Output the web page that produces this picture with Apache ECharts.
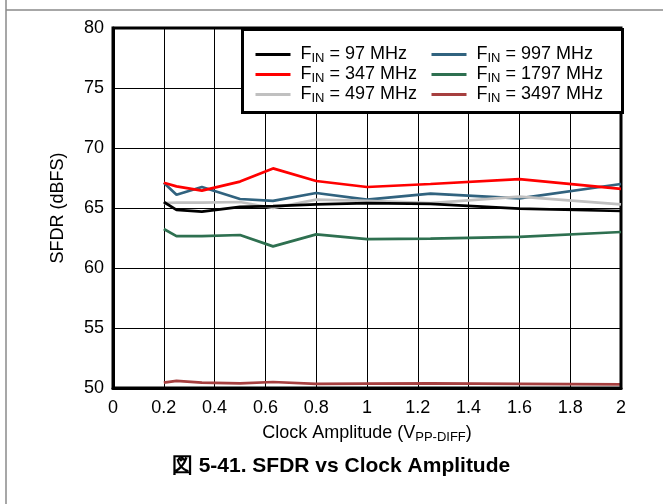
<!DOCTYPE html>
<html>
<head>
<meta charset="utf-8">
<script src="https://cdn.jsdelivr.net/npm/echarts@6/dist/echarts.min.js"></script>
<style>html,body{margin:0;padding:0;background:#fff}#c{width:663px;height:504px}</style>
</head>
<body>
<div id="c"></div>
<script>
var clockAmp = [0.2, 0.25, 0.35, 0.5, 0.63, 0.8, 1.0, 1.25, 1.6, 2.0];
var sfdr97   = [65.5, 64.85, 64.7, 65.1, 65.15, 65.3, 65.4, 65.35, 64.95, 64.75];
var sfdr347  = [67.1, 66.8, 66.45, 67.2, 68.3, 67.25, 66.75, 67.0, 67.4, 66.6];
var sfdr497  = [65.4, 65.45, 65.45, 65.5, 65.0, 65.7, 65.6, 65.4, 65.95, 65.3];
var sfdr997  = [67.1, 66.1, 66.75, 65.75, 65.6, 66.25, 65.7, 66.2, 65.8, 67.0];
var sfdr1797 = [63.25, 62.65, 62.65, 62.75, 61.8, 62.8, 62.4, 62.45, 62.6, 63.0];
var sfdr3497 = [50.45, 50.6, 50.45, 50.38, 50.5, 50.35, 50.37, 50.38, 50.35, 50.3];
var seriesNames = ['97 MHz', '347 MHz', '497 MHz', '997 MHz', '1797 MHz', '3497 MHz'];
var seriesColors = ['#000000', '#ff0000', '#c0c0c0', '#31637f', '#2e7050', '#a63f3f'];
var legendOrder = ['97 MHz', '997 MHz', '347 MHz', '1797 MHz', '497 MHz', '3497 MHz'];
var xTickLabels = ['0', '0.2', '0.4', '0.6', '0.8', '1', '1.2', '1.4', '1.6', '1.8', '2'];
var yTickLabels = ['50', '55', '60', '65', '70', '75', '80'];
var titleText = '図 5-41. SFDR vs Clock Amplitude';

var allData = [sfdr97, sfdr347, sfdr497, sfdr997, sfdr1797, sfdr3497];
var FONT = '"Liberation Sans", Arial, sans-serif';

function pairs(ys) { return clockAmp.map(function (x, i) { return [x, ys[i]]; }); }

var series = seriesNames.map(function (n, i) {
  return {
    name: n, type: 'line', data: pairs(allData[i]),
    symbol: 'none', color: seriesColors[i],
    lineStyle: { width: 2.7, color: seriesColors[i] },
    z: 3 + (5 - i)
  };
});

var chart = echarts.init(document.getElementById('c'), null, { renderer: 'canvas' });
chart.setOption({
  animation: false,
  backgroundColor: '#fff',
  textStyle: { fontFamily: FONT },
  grid: { left: 113, right: 42, top: 28, bottom: 116, show: true, borderColor: '#000', borderWidth: 3, backgroundColor: 'transparent', z: 4 },
  xAxis: {
    type: 'value', min: 0, max: 2, interval: 0.2,
    axisLine: { show: true, lineStyle: { color: '#000', width: 3 } },
    axisTick: { show: false },
    splitLine: { show: true, lineStyle: { color: '#000', width: 1 } },
    axisLabel: { color: '#000', fontSize: 18, fontFamily: FONT, margin: 11,
      formatter: function (v) { return xTickLabels[Math.round(v / 0.2)]; } },
    name: '{m|Clock Amplitude (V}{s|PP-DIFF}{m|)}',
    nameLocation: 'middle', nameGap: 34,
    nameTextStyle: { rich: {
      m: { fontSize: 18, color: '#000', fontFamily: FONT, lineHeight: 22 },
      s: { fontSize: 13, color: '#000', fontFamily: FONT, lineHeight: 13, verticalAlign: 'bottom' }
    } }
  },
  yAxis: {
    type: 'value', min: 50, max: 80, interval: 5,
    axisLine: { show: true, lineStyle: { color: '#000', width: 3 } },
    axisTick: { show: false },
    splitLine: { show: true, lineStyle: { color: '#000', width: 1 } },
    axisLabel: { color: '#000', fontSize: 18, fontFamily: FONT, margin: 9,
      formatter: function (v) { return yTickLabels[Math.round((v - 50) / 5)]; } },
    name: 'SFDR (dBFS)', nameLocation: 'middle', nameGap: 46,
    nameTextStyle: { color: '#000', fontSize: 18, fontFamily: FONT }
  },
  legend: {
    data: legendOrder, orient: 'horizontal',
    left: 242.5, top: 29.5, width: 356,
    itemGap: 0, itemWidth: 35, itemHeight: 3, icon: 'rect',
    padding: [15, 15, 8, 13],
    backgroundColor: '#fff', borderColor: '#000', borderWidth: 3, borderRadius: 0,
    selectedMode: false, z: 10,
    formatter: function (n) { return '{m|F}{s|IN}{m| = ' + n + '}'; },
    textStyle: {
      width: 131, padding: [0, 0, 0, 5], lineHeight: 20,
      rich: {
        m: { fontSize: 18, color: '#000', fontFamily: FONT, lineHeight: 20 },
        s: { fontSize: 13, color: '#000', fontFamily: FONT, lineHeight: 13, verticalAlign: 'bottom' }
      }
    }
  },
  graphic: [
    { type: 'line', shape: { x1: 6, y1: 0, x2: 6, y2: 504 }, style: { stroke: '#8a8a8a', lineWidth: 1.5 }, silent: true },
    { type: 'line', shape: { x1: 6, y1: 10, x2: 663, y2: 10 }, style: { stroke: '#8a8a8a', lineWidth: 1.5 }, silent: true },
    { type: 'text', x: 341, y: 466, style: { text: titleText, fill: '#000', font: 'bold 21px ' + FONT, textAlign: 'center', textVerticalAlign: 'middle' } }
  ],
  series: series
});
</script>
</body>
</html>
